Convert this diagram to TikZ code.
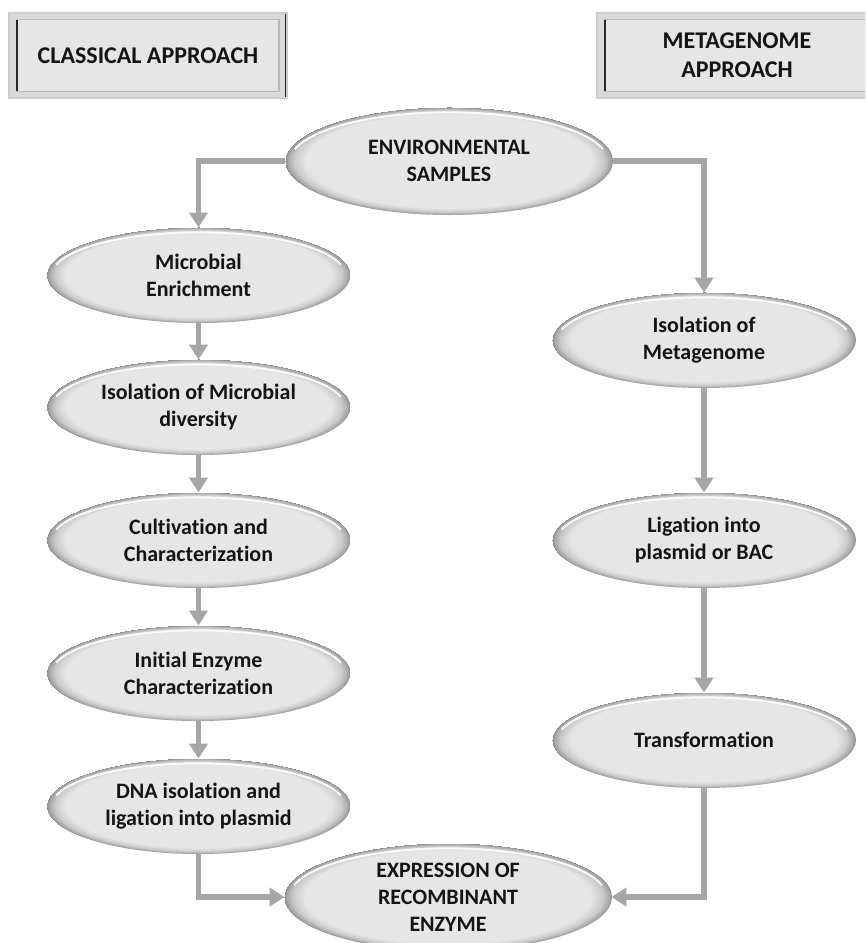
\documentclass[tikz,border=0pt]{standalone}
\usepackage{fontspec}
\setmainfont{Carlito}[Ligatures=NoCommon]
\usetikzlibrary{arrows.meta,shapes.geometric,calc}
\definecolor{ellfill}{HTML}{E6E6E6}
\definecolor{arrowgray}{HTML}{A6A6A6}
\definecolor{txt}{HTML}{141414}
\definecolor{boxfill}{HTML}{E6E6E6}
\definecolor{boxband}{HTML}{DADADA}
\pgfdeclareradialshading{bevel}{\pgfpoint{-0.4bp}{0.7bp}}{color(0bp)=(ellfill); color(21.8bp)=(ellfill); color(23.6bp)=(ellfill!88!black); color(24.6bp)=(ellfill!72!black); color(25bp)=(ellfill!60!black)}
\tikzset{
  ellbase/.style={ellipse, inner sep=0pt, align=center, text=txt, shading=bevel,
    font=\fontsize{16.5}{20.3}\selectfont\bfseries},
  smallell/.style={ellbase, minimum width=228pt, minimum height=72pt,
    path picture={\draw[white,line width=1.5pt,opacity=.9]
      (path picture bounding box.center) ++(166:110pt and 32pt)
      arc[start angle=166,end angle=14,x radius=110pt,y radius=32pt];}},
  bigell/.style={ellbase, minimum width=246pt, minimum height=81pt,
    path picture={\draw[white,line width=1.5pt,opacity=.9]
      (path picture bounding box.center) ++(166:119pt and 36.5pt)
      arc[start angle=166,end angle=14,x radius=119pt,y radius=36.5pt];}},
  hdr/.style={rectangle, inner sep=0pt, align=center, text=txt,
    minimum height=63.75pt, fill=boxband, draw=gray!40, line width=0.9pt,
    font=\fontsize{18}{21.7}\selectfont\bfseries,
    path picture={
      \draw[gray!55, fill=boxfill, line width=0.8pt]
        ([shift={(6pt,-5.2pt)}]path picture bounding box.north west) rectangle
        ([shift={(-6pt,5.2pt)}]path picture bounding box.south east);
      \draw[black!85, line width=1.3pt]
        ([shift={(6pt,-5.2pt)}]path picture bounding box.north west) --
        ([shift={(6pt,5.2pt)}]path picture bounding box.south west);
      \draw[black!85, line width=1.3pt]
        ([shift={(-0.9pt,-1pt)}]path picture bounding box.north east) --
        ([shift={(-0.9pt,1pt)}]path picture bounding box.south east);
    }},
  conn/.style={draw=arrowgray, line width=3.8pt,
    -{Triangle[width=13.5pt,length=11pt]}, shorten >=-0.5pt}
}
\begin{document}
\begin{tikzpicture}[x=0.75pt, y=0.75pt]
\useasboundingbox (0,0) rectangle (865,-943);
\clip (0,0) rectangle (865,-943);
\fill[white] (0,0) rectangle (865,-943);

% headers
\node[hdr, minimum width=208.5pt] (cls) at (148,-55.5) {CLASSICAL APPROACH};
\node[hdr, minimum width=210pt] (meta) at (737,-55.5) {METAGENOME\\APPROACH};

% ellipses
\node[bigell] (env) at (449,-161) {ENVIRONMENTAL\\SAMPLES};

\node[smallell] (me)  at (198.5,-275) {Microbial\\Enrichment};
\node[smallell] (imd) at (198.5,-407) {Isolation of Microbial\\diversity};
\node[smallell] (cul) at (198.5,-540) {Cultivation and\\Characterization};
\node[smallell] (ini) at (198.5,-673) {Initial Enzyme\\Characterization};
\node[smallell] (dna) at (198.5,-806) {DNA isolation and\\ligation into plasmid};

\node[smallell] (im)  at (704,-340) {Isolation of\\Metagenome};
\node[smallell] (lig) at (704,-540) {Ligation into\\plasmid or BAC};
\node[smallell] (tr)  at (704,-740) {Transformation};

\node[bigell] (expr) at (448,-897) {EXPRESSION OF\\RECOMBINANT\\ENZYME};

% connectors
\draw[conn] (env.west) -| (me.north);
\draw[conn] (env.east) -| (im.north);
\draw[conn] (me) -- (imd);
\draw[conn] (imd) -- (cul);
\draw[conn] (cul) -- (ini);
\draw[conn] (ini) -- (dna);
\draw[conn] (im) -- (lig);
\draw[conn] (lig) -- (tr);
\draw[conn] (dna.south) |- (expr.west);
\draw[conn] (tr.south) |- (expr.east);
\end{tikzpicture}
\end{document}
